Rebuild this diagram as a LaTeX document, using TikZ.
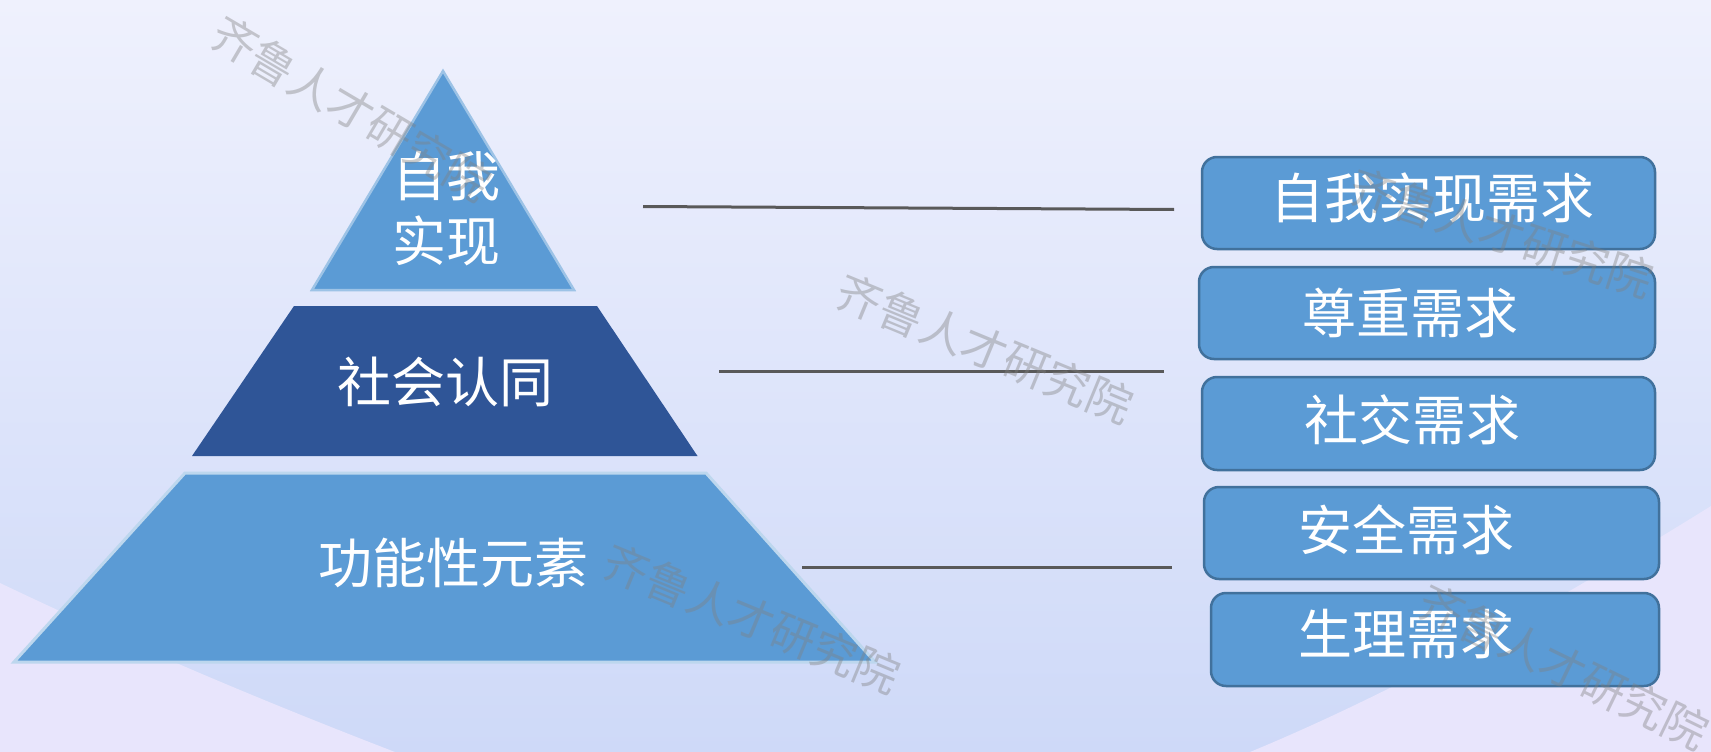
\documentclass[tikz,border=0pt]{standalone}
\usepackage{fontspec}
\newfontfamily\cjk{Noto Sans CJK SC}
\definecolor{bgtop}{RGB}{239,241,253}
\definecolor{bgbot}{RGB}{206,217,248}
\definecolor{bglav}{RGB}{232,229,252}
\definecolor{pyr}{RGB}{91,155,213}
\definecolor{pyrdark}{RGB}{47,85,151}
\definecolor{edgetri}{RGB}{157,195,230}
\definecolor{edgebot}{RGB}{189,215,238}
\definecolor{boxedge}{RGB}{65,113,156}
\definecolor{conncol}{RGB}{89,89,89}
\begin{document}
\begin{tikzpicture}[x=1pt,y=-1pt,
  lbl/.style={font=\cjk\fontsize{54}{65}\selectfont, text=white, inner sep=0pt, align=center},
  needbox/.style={draw=boxedge, line width=2.5pt, fill=pyr, rounded corners=15pt, inner sep=0pt},
  conn/.style={draw=conncol, line width=3pt},
  wm/.style={font=\cjk\fontsize{45}{45}\selectfont, text=gray, text opacity=0.4, inner sep=0pt}]
\useasboundingbox (0,0) rectangle (1711,752);
% background
\shade[top color=bgtop, bottom color=bgbot] (0,0) rectangle (1711,752);
\fill[bglav] (0,583) .. controls (130,645) and (260,700) .. (395,752) -- (0,752) -- cycle;
\fill[bglav] (1250,752) .. controls (1400,690) and (1560,600) .. (1711,506) -- (1711,752) -- cycle;
% pyramid
\path[draw=edgetri, line width=2.5pt, fill=pyr] (443,71) -- (574,290) -- (312,290) -- cycle;
\path[fill=pyrdark] (294,306) -- (597,306) -- (697.5,456) -- (192,456) -- cycle;
\path[draw=edgebot, line width=3pt, fill=pyr] (185,473) -- (706,473) -- (875,662) -- (14,662) -- cycle;
\node[lbl] (p1) at (446.5,209) {自我\\实现};
\node[lbl] (p2) at (445,382) {社会认同};
\node[lbl] (p3) at (453.5,563) {功能性元素};
% boxes
\node[needbox, minimum width=453pt, minimum height=92pt] (b1) at (1428.5,203) {};
\node[needbox, minimum width=456pt, minimum height=92pt] (b2) at (1427,313) {};
\node[needbox, minimum width=453pt, minimum height=93pt] (b3) at (1428.5,423.5) {};
\node[needbox, minimum width=455pt, minimum height=92pt] (b4) at (1431.5,533) {};
\node[needbox, minimum width=448pt, minimum height=93pt] (b5) at (1435,639.5) {};
\node[lbl] (t1) at (1432.5,198) {自我实现需求};
\node[lbl] (t2) at (1410,313) {尊重需求};
\node[lbl] (t3) at (1412,420) {社交需求};
\node[lbl] (t4) at (1406.5,530) {安全需求};
\node[lbl] (t5) at (1406.5,634) {生理需求};
% connectors
\coordinate (l1a) at (643,206.5);
\coordinate (l1b) at (1174,209.5);
\coordinate (l2a) at (719,371);
\coordinate (l2b) at (1164,371);
\coordinate (l3a) at (802,567);
\coordinate (l3b) at (1172,567);
\draw[conn] (l1a) -- (l1b);
\draw[conn] (l2a) -- (l2b);
\draw[conn] (l3a) -- (l3b);
% watermarks
\node[wm, rotate=-30.5] (w1) at (351.5,108.5) {齐鲁人才研究院};
\node[wm, rotate=-22.4] (w2) at (985,348.5) {齐鲁人才研究院};
\node[wm, rotate=-22.4] (w3) at (752,618.5) {齐鲁人才研究院};
\node[wm, rotate=-18] (w4) at (1502,233) {齐鲁人才研究院};
\node[wm, rotate=-25.9] (w5) at (1563.5,667) {齐鲁人才研究院};
\end{tikzpicture}
\end{document}
